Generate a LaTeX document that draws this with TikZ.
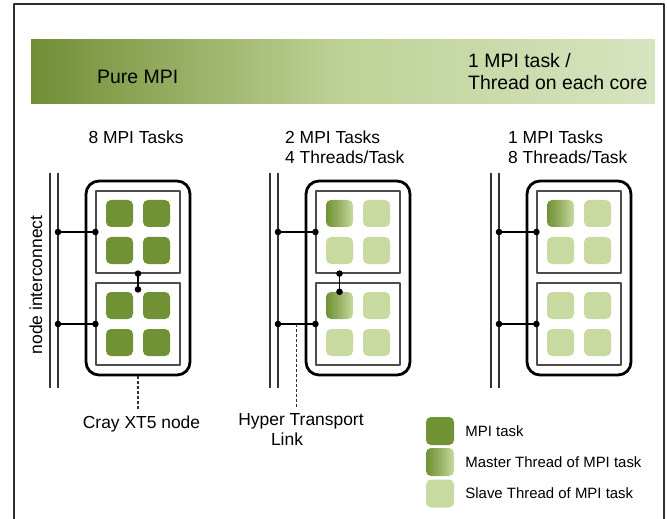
\documentclass[tikz,border=0pt]{standalone}
\usepackage{fontspec}
\setmainfont{Liberation Sans}
\usetikzlibrary{positioning,calc,arrows.meta}
\definecolor{taskgreen}{RGB}{112,145,52}
\definecolor{slavegreen}{RGB}{200,218,160}
\definecolor{bandleft}{RGB}{114,142,54}
\definecolor{bandmid}{RGB}{190,210,150}
\definecolor{bandright}{RGB}{215,228,192}
\definecolor{framegray}{RGB}{45,45,45}
\tikzset{
	core/.style={minimum size=27bp, inner sep=0pt, rounded corners=5bp},
	task/.style={core, fill=taskgreen},
	slave/.style={core, fill=slavegreen},
	master/.style={core, left color=taskgreen, right color=slavegreen, middle color=taskgreen!55!slavegreen},
	cnode/.style={draw, line width=2.8bp, rounded corners=13bp, minimum width=104bp, minimum height=194bp},
	socket/.style={draw=black!70, line width=1.2bp, minimum width=84bp, minimum height=82bp},
	bus/.style={draw=black!80, line width=1.2bp},
	link/.style={line width=1.2bp, {Circle[length=6.5bp]}-{Circle[length=6.5bp]}, shorten <=-3.25bp, shorten >=-3.25bp},
	hint/.style={line width=1.4bp, black!80, dash pattern=on 3bp off 2bp},
	head/.style={font=\fontsize{19.5}{22}\selectfont, inner sep=0pt},
	lbl/.style={font=\fontsize{17.5}{20}\selectfont, inner sep=0pt},
	legend/.style={font=\fontsize{15}{18}\selectfont, inner sep=0pt},
}
\begin{document}
\begin{tikzpicture}[x=1bp, y=-1bp, line join=round]
	\useasboundingbox (0,0) rectangle (667,519);
	\draw[framegray, line width=2.5bp] (14,519) -- (14,4) -- (664,4) -- (664,519);
	\shade[left color=bandleft, right color=bandright, middle color=bandmid] (31,40) rectangle (655,104);
	\node[head, anchor=base west] (pure) at (97,84) {Pure MPI};
	\node[head, anchor=north west, align=left] (hybrid) at (468,53) {1 MPI task /\\Thread on each core};
	% three node layouts
	\foreach \col/\dx/\firsta/\firstb/\other in {a/0/task/task/task, b/220/master/master/slave, c/441/master/slave/slave}{
		\begin{scope}[xshift=\dx bp]
			\draw[bus] (50,173) coordinate (lt\col) -- (50,388) coordinate (lb\col);
			\draw[bus] (58,173) coordinate (rt\col) -- (58,388) coordinate (rb\col);
			\node[cnode] (n\col) at (138,278) {};
			\node[socket] (s\col1) at (138,232) {};
			\node[socket] (s\col2) at (138,324) {};
		\end{scope}
		\draw[link] (rt\col |- s\col1.west) -- (s\col1.west);
		\draw[link] (rt\col |- s\col2.west) -- (s\col2.west);
		\foreach \s/\first in {1/\firsta,2/\firstb}
			\foreach \row/\dy in {1/-18.5,2/18.5}
				\foreach \kk/\ddx in {1/-18.5,2/18.5}{
					\ifnum\row\kk=11 \edef\st{\first}\else\edef\st{\other}\fi
					\node[\st] (k\col\s\row\kk) at ([shift={(\ddx,\dy)}]s\col\s) {};
				}
	}
	\draw[link] (sa1.south) -- ([shift={(0,7)}]sa2.north);
	\draw[link] (kb211 |- sb1.south) -- (kb211.north);
	\node[lbl, anchor=north] (tasksa) at (136,131) {8 MPI Tasks};
	\node[lbl, anchor=north west, align=left] (tasksb) at (285,131) {2 MPI Tasks\\4 Threads/Task};
	\node[lbl, anchor=north west, align=left] (tasksc) at (508,131) {1 MPI Tasks\\8 Threads/Task};
	\node[lbl, rotate=90] (ic) at (36,285) {node interconnect};
	\node[lbl, anchor=base] (cray) at (141.5,428) {Cray XT5 node};
	\node[lbl, anchor=north, align=center] (ht) at (301,413) {Hyper Transport\\Link\hspace*{28bp}};
	\draw[hint] (na.south) -- ([yshift=5bp]na.south |- cray.north);
	\coordinate (htb) at ($(rtb |- sb2.west)!0.5!(sb2.west)$);
	\draw[hint] (htb) -- ([yshift=5bp]htb |- ht.north);
	% legend
	\node[task, minimum size=28bp] (lgtask) at (440,431) {};
	\node[master, minimum size=28bp] (lgmaster) at (440,462) {};
	\node[slave, minimum size=28bp] (lgslave) at (440,493.5) {};
	\node[legend, right=11bp of lgtask] (lgtasktxt) {MPI task};
	\node[legend, right=11bp of lgmaster] (lgmastertxt) {Master Thread of MPI task};
	\node[legend, right=11bp of lgslave] (lgslavetxt) {Slave Thread of MPI task};
\end{tikzpicture}
\end{document}
